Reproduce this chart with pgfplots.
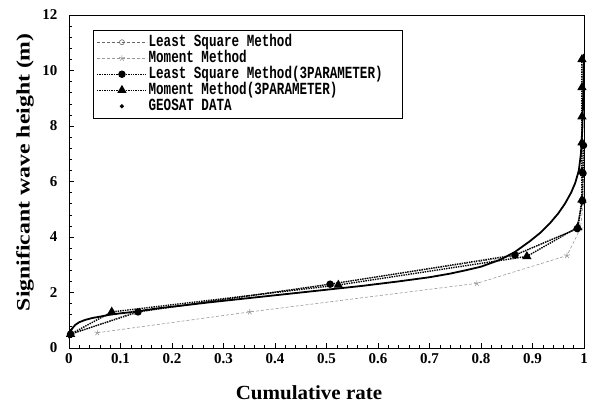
\documentclass[border=0pt]{standalone}
\usepackage{fontspec}
\setmainfont{Liberation Serif}
\newfontfamily\legfont{Liberation Mono}
\usepackage{graphicx}
\usepackage{pgfplots}
\pgfplotsset{compat=1.18}
\usetikzlibrary{calc}

% legend text: narrow bold typewriter face, fixed column width
\newcommand\lgd[1]{\makebox[250pt][l]{\scalebox{0.74}[1]{\fontsize{17}{17}\selectfont\legfont\bfseries #1}}}

\begin{document}
\begin{tikzpicture}
\begin{axis}[
  name=ax,
  scale only axis, width=515pt, height=333pt,
  xmin=0, xmax=1, ymin=0, ymax=12,
  xtick={0,0.1,0.2,0.3,0.4,0.5,0.6,0.7,0.8,0.9,1},
  xticklabels={0,0.1,0.2,0.3,0.4,0.5,0.6,0.7,0.8,0.9,1},
  ytick={0,2,4,6,8,10,12},
  yticklabels={0,2,4,6,8,10,12},
  minor x tick num=4, minor y tick num=4,
  tick align=inside, tick pos=left,
  major tick length=5pt, minor tick length=3pt,
  tick style={black, line width=0.5pt},
  axis line style={black, line width=0.7pt},
  tick label style={font=\fontsize{15}{15}\selectfont\bfseries},
  xticklabel style={yshift=-2pt},
  yticklabel style={xshift=-8pt},
  every axis x label/.style={at={(rel axis cs:0.466,0)}, anchor=base, yshift=-51pt},
  every axis y label/.style={at={(rel axis cs:0,0.528)}, xshift=-44pt, rotate=90, anchor=center},
  xlabel={\scalebox{1.05}[1]{\fontsize{20}{20}\selectfont\bfseries Cumulative rate}},
  ylabel={\scalebox{1.25}[1]{\fontsize{19}{19}\selectfont\bfseries Significant wave height (m)}},
  clip=false,
  legend cell align=left,
  legend image code/.code={\draw[mark repeat=2,mark phase=2,#1] plot coordinates {(0pt,0pt) (25pt,0pt) (50pt,0pt)};},
  legend style={at={(rel axis cs:0.0466,0.955)}, anchor=north west,
    draw=black, line width=0.5pt, inner xsep=3pt, inner ysep=4pt, row sep=0pt,
    nodes={inner sep=1pt, text height=11pt, text depth=3pt}},
]

% Least Square Method
\addplot[color=black!60, densely dashed, line width=0.6pt, mark=o, mark size=2.5pt,
  mark options={solid, fill=white}] coordinates {
  (0.005,0.5) (0.128,1.3) (0.505,2.3) (0.862,3.3) (0.985,4.3) (0.997,5.3) (0.999,6.3)
};
\addlegendentry{\lgd{Least Square Method}}

% Moment Method
\addplot[color=black!40, densely dashed, line width=0.6pt, mark=star, mark size=3pt,
  mark options={solid}] coordinates {
  (0.055,0.55) (0.351,1.3) (0.792,2.33) (0.967,3.33) (0.993,4.3) (0.999,5.3)
};
\addlegendentry{\lgd{Moment Method}}

% Least Square Method, 3 parameters
\addplot[black, densely dotted, line width=1.4pt, mark=*, mark size=3pt,
  mark options={solid}] coordinates {
  (0.003,0.5) (0.134,1.3) (0.507,2.3) (0.866,3.35) (0.987,4.3) (0.997,5.3) (0.998,6.3) (0.999,7.3)
};
\addlegendentry{\lgd{Least Square Method(3PARAMETER)}}

% Moment Method, 3 parameters
\addplot[black, densely dotted, line width=1.4pt, mark=triangle*, mark size=4pt,
  mark options={solid}] coordinates {
  (0.003,0.5) (0.083,1.3) (0.523,2.27) (0.889,3.3) (0.988,4.35) (0.996,5.34)
  (0.996,6.35) (0.996,7.4) (0.996,8.34) (0.996,9.39) (0.996,10.4)
};
\addlegendentry{\lgd{Moment Method(3PARAMETER)}}

% GEOSAT observations (empirical cumulative curve)
\addplot[black, line width=1.8pt, mark=none,
  legend image code/.code={\fill[black] (25pt,0pt) circle (1pt);}] coordinates {
  (0.0,0.35) (0.002,0.54) (0.006,0.7) (0.012,0.83) (0.02,0.93) (0.031,1.01)
  (0.045,1.08) (0.06,1.13) (0.08,1.2) (0.1,1.25) (0.125,1.3) (0.15,1.37)
  (0.177,1.44) (0.22,1.53) (0.27,1.64) (0.35,1.8) (0.43,1.96) (0.5,2.1)
  (0.57,2.24) (0.64,2.4) (0.7,2.55) (0.74,2.68) (0.77,2.8) (0.8,2.93)
  (0.837,3.18) (0.865,3.45) (0.895,3.85) (0.915,4.15) (0.934,4.5) (0.95,4.85)
  (0.963,5.2) (0.975,5.6) (0.983,5.95) (0.99,6.4) (0.994,7.0) (0.997,8.0)
  (0.999,9.5) (0.9995,10.6)
};
\addlegendentry{\lgd{GEOSAT DATA}}

\end{axis}
\pgfresetboundingbox
\path ($(ax.south west)+(-69pt,-59pt)$) rectangle ($(ax.north east)+(10pt,15pt)$);
\end{tikzpicture}
\end{document}
